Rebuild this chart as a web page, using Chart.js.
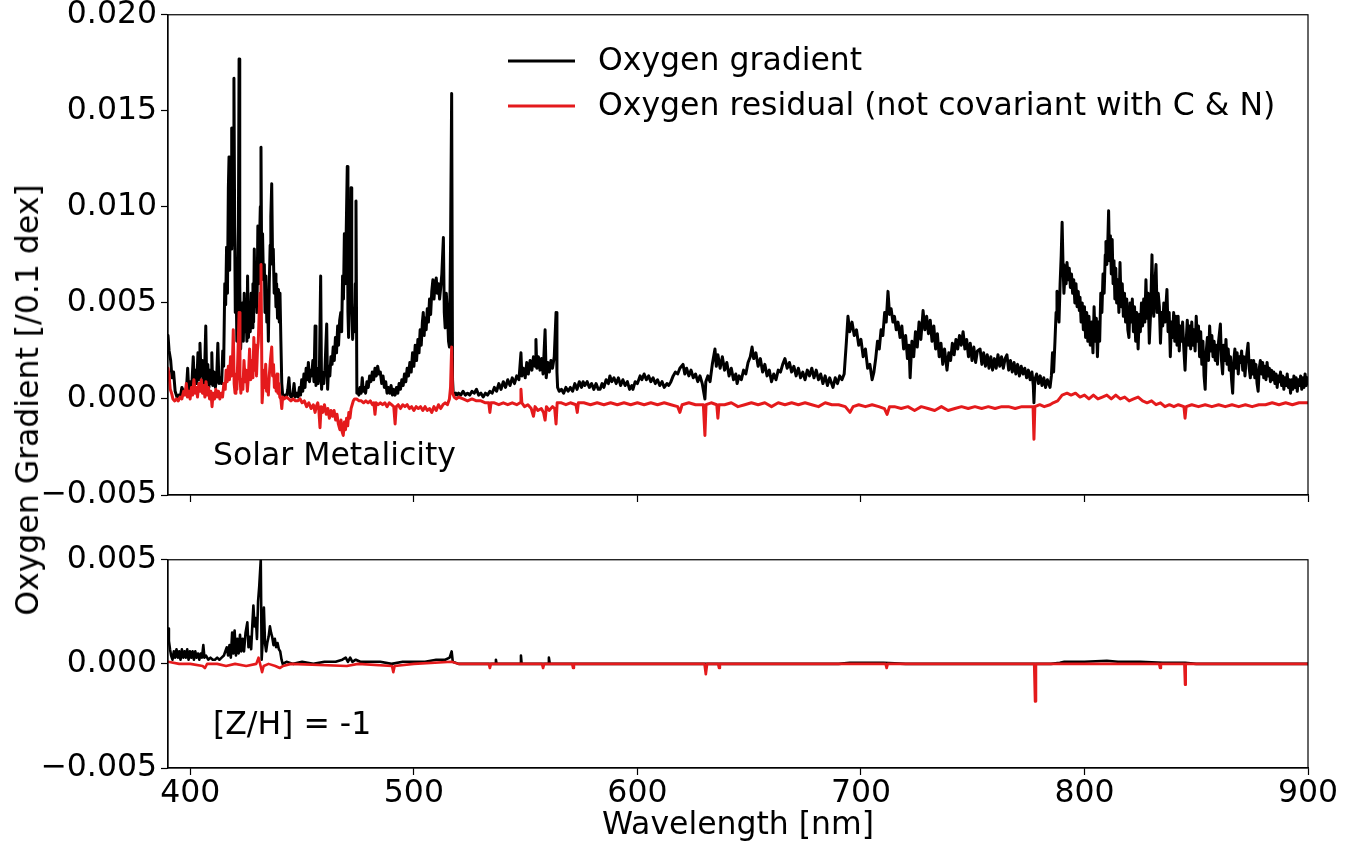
<!DOCTYPE html>
<html>
<head>
<meta charset="utf-8">
<script src="https://cdn.jsdelivr.net/npm/chart.js@4.4.1/dist/chart.umd.min.js"></script>
<style>
  body { margin: 0; background: #fff; width: 1354px; height: 843px; overflow: hidden; position: relative; font-family: "DejaVu Sans", sans-serif; }
  #topBox { position: absolute; left: 0; top: -5px; }
  #bottomBox { position: absolute; left: 0; top: 540px; }
  #yTitle { position: absolute; left: 27px; top: 400px; transform: translate(-50%, -50%) rotate(-90deg); white-space: nowrap; font-size: 31.5px; color: #000; }
</style>
</head>
<body>
<div id="topBox"><canvas id="solarChart" width="1354" height="520"></canvas></div>
<div id="bottomBox"><canvas id="poorChart" width="1354" height="303"></canvas></div>
<div id="yTitle">Oxygen Gradient [/0.1 dex]</div>
<script>
// [wavelength nm, gradient]
const solarGradient = [
  [390.0,0.0033],[390.5,0.0025],[391.2,0.0020],[391.8,0.0011],[392.5,0.0014],[393.2,0.0004],[394.0,0.0001],[394.8,0.0002],[395.5,0.0001],[396.2,0.0006],
  [396.9,0.0004],[397.6,0.0003],[398.3,0.0006],[398.8,0.0016],[399.3,0.0004],[400.0,0.0009],[400.6,0.0006],[401.3,0.0022],[401.8,0.0007],[402.4,0.0015],
  [402.9,0.0008],[403.4,0.0024],[403.9,0.0010],[404.3,0.0029],[404.8,0.0012],[405.4,0.0020],[405.9,0.0008],[406.4,0.0016],[406.9,0.0038],[407.3,0.0009],
  [407.8,0.0018],[408.3,0.0006],[408.8,0.0015],[409.3,0.0008],[409.6,0.0024],[410.0,0.0007],[410.6,0.0014],[411.2,0.0006],[411.8,0.0012],[412.3,0.0029],
  [412.8,0.0008],[413.4,0.0011],[414.0,0.0008],[414.5,0.0025],[414.9,0.0017],[415.4,0.0060],[415.8,0.0049],[416.2,0.0079],[416.6,0.0055],[417.0,0.0110],
  [417.3,0.0126],[417.6,0.0067],[417.9,0.0105],[418.2,0.0078],[418.5,0.0141],[418.8,0.0080],[419.2,0.0120],[419.5,0.0167],[419.8,0.0095],[420.1,0.0045],
  [420.4,0.0070],[420.8,0.0030],[421.1,0.0060],[421.5,0.0090],[421.8,0.0177],[422.1,0.0060],[422.5,0.0026],[422.9,0.0040],[423.3,0.0050],[423.7,0.0030],
  [424.1,0.0055],[424.5,0.0035],[424.9,0.0045],[425.3,0.0030],[425.6,0.0064],[426.0,0.0032],[426.4,0.0050],[426.8,0.0035],[427.2,0.0055],[427.6,0.0037],
  [428.0,0.0060],[428.3,0.0040],[428.6,0.0078],[429.0,0.0048],[429.4,0.0065],[429.8,0.0045],[430.2,0.0090],[430.6,0.0060],[431.0,0.0085],[431.3,0.0100],
  [431.6,0.0131],[431.9,0.0070],[432.3,0.0086],[432.7,0.0062],[433.1,0.0070],[433.4,0.0045],[433.8,0.0064],[434.2,0.0040],[434.6,0.0050],[434.9,0.0030],
  [435.3,0.0060],[435.7,0.0080],[436.0,0.0095],[436.4,0.0112],[436.8,0.0070],[437.1,0.0078],[437.5,0.0055],[437.9,0.0065],[438.3,0.0048],[438.6,0.0060],
  [439.0,0.0042],[439.4,0.0057],[439.8,0.0040],[440.1,0.0055],[440.5,0.0030],[440.9,0.0008],[441.3,0.0002],[441.8,0.0001],[442.4,0.0002],[443.0,0.0001],
  [443.6,0.0005],[444.1,0.0011],[444.6,0.0002],[445.2,0.0001],[445.8,0.0002],[446.4,0.0008],[446.9,0.0001],[447.5,0.0003],[448.2,0.0001],[448.8,0.0006],
  [449.3,0.0002],[449.8,0.0010],[450.3,0.0004],[450.8,0.0013],[451.3,0.0006],[451.8,0.0016],[452.3,0.0010],[452.8,0.0019],[453.3,0.0009],[453.8,0.0015],
  [454.3,0.0012],[454.8,0.0020],[455.3,0.0009],[455.8,0.0038],[456.2,0.0007],[456.7,0.0016],[457.2,0.0008],[457.7,0.0012],[458.3,0.0064],[458.7,0.0005],
  [459.2,0.0014],[459.7,0.0008],[460.2,0.0015],[461.0,0.0039],[461.4,0.0005],[461.9,0.0017],[462.4,0.0012],[462.9,0.0022],[463.4,0.0018],[463.9,0.0027],
  [464.4,0.0020],[464.9,0.0032],[465.4,0.0024],[465.9,0.0038],[466.3,0.0028],[466.8,0.0041],[467.3,0.0045],[467.7,0.0035],[468.1,0.0064],[468.5,0.0052],
  [468.9,0.0086],[469.3,0.0060],[469.7,0.0085],[470.2,0.0121],[470.5,0.0045],[470.8,0.0032],[471.2,0.0060],[471.6,0.0075],[471.9,0.0110],[472.2,0.0050],
  [472.6,0.0031],[473.0,0.0045],[473.4,0.0035],[473.8,0.0060],[474.1,0.0103],[474.5,0.0003],[474.9,0.0004],[475.4,0.0002],[475.9,0.0006],[476.4,0.0003],
  [476.9,0.0011],[477.4,0.0004],[477.9,0.0006],[478.4,0.0003],[479.0,0.0009],[479.6,0.0006],[480.2,0.0012],[480.8,0.0009],[481.4,0.0014],[482.0,0.0010],
  [482.6,0.0016],[483.2,0.0012],[483.8,0.0017],[484.4,0.0013],[485.0,0.0014],[485.6,0.0008],[486.2,0.0012],[486.8,0.0006],[487.4,0.0009],[488.0,0.0003],
  [488.6,0.0006],[489.2,0.0003],[489.8,0.0007],[490.4,0.0002],[491.0,0.0005],[491.6,0.0002],[492.2,0.0006],[492.8,0.0003],[493.4,0.0008],[494.0,0.0005],
  [494.6,0.0010],[495.2,0.0007],[495.8,0.0013],[496.4,0.0009],[497.0,0.0016],[497.6,0.0012],[498.2,0.0019],[498.8,0.0014],[499.4,0.0024],[500.0,0.0017],
  [500.6,0.0028],[501.2,0.0020],[501.8,0.0031],[502.3,0.0024],[502.8,0.0036],[503.3,0.0028],[503.8,0.0040],[504.2,0.0045],[504.6,0.0033],[505.0,0.0042],
  [505.5,0.0036],[506.0,0.0047],[506.5,0.0040],[507.0,0.0052],[507.5,0.0044],[508.0,0.0056],[508.5,0.0062],[509.0,0.0052],[509.5,0.0060],[510.0,0.0063],
  [510.5,0.0055],[511.0,0.0060],[511.5,0.0052],[512.0,0.0058],[512.5,0.0065],[513.2,0.0084],[513.6,0.0045],[514.0,0.0037],[514.5,0.0055],[515.0,0.0045],
  [515.5,0.0030],[515.9,0.0027],[516.4,0.0080],[516.9,0.0159],[517.3,0.0010],[517.6,0.0003],[518.2,0.0002],[518.8,0.0003],[519.4,0.0002],[520.0,0.0003],
  [521.0,0.0002],[522.0,0.0004],[523.0,0.0002],[524.0,0.0003],[525.0,0.0002],[526.0,0.0004],[527.0,0.0003],[528.0,0.0005],[529.0,0.0002],[530.0,0.0003],
  [531.0,0.0001],[532.0,0.0003],[533.0,0.0002],[534.0,0.0004],[535.0,0.0003],[536.0,0.0006],[537.0,0.0004],[538.0,0.0008],[539.0,0.0005],[540.0,0.0009],
  [541.0,0.0006],[542.0,0.0010],[543.0,0.0007],[544.0,0.0011],[545.0,0.0008],[546.0,0.0012],[547.0,0.0010],[547.9,0.0024],[548.3,0.0012],[549.0,0.0016],
  [549.8,0.0011],[550.5,0.0019],[551.2,0.0013],[552.0,0.0020],[552.8,0.0015],[553.5,0.0022],[554.2,0.0017],[554.6,0.0031],[555.0,0.0016],[555.7,0.0022],
  [556.4,0.0015],[557.1,0.0021],[557.8,0.0013],[558.7,0.0036],[559.2,0.0011],[559.9,0.0019],[560.6,0.0014],[561.3,0.0020],[562.0,0.0016],[562.8,0.0022],
  [563.6,0.0045],[564.0,0.0014],[564.3,0.0006],[565.0,0.0004],[566.0,0.0005],[567.0,0.0003],[568.0,0.0006],[569.0,0.0004],[570.0,0.0006],[571.0,0.0004],
  [572.0,0.0008],[573.0,0.0005],[574.0,0.0009],[575.0,0.0006],[575.7,0.0009],[576.5,0.0007],[577.5,0.0009],[578.5,0.0006],[579.5,0.0008],[580.5,0.0005],
  [581.5,0.0008],[582.5,0.0005],[583.3,0.0005],[584.2,0.0008],[585.0,0.0006],[586.0,0.0010],[587.0,0.0008],[587.7,0.0012],[588.5,0.0009],[589.5,0.0011],
  [590.5,0.0008],[591.5,0.0011],[592.5,0.0007],[593.5,0.0010],[594.5,0.0007],[595.5,0.0009],[596.5,0.0005],[597.5,0.0007],[598.0,0.0005],[599.0,0.0009],
  [600.0,0.0008],[601.2,0.0012],[602.0,0.0010],[603.0,0.0013],[604.0,0.0010],[605.0,0.0012],[606.0,0.0009],[607.0,0.0011],[608.0,0.0008],[609.0,0.0010],
  [610.0,0.0007],[611.0,0.0009],[612.0,0.0006],[613.2,0.0008],[614.0,0.0007],[615.0,0.0009],[616.0,0.0012],[617.0,0.0014],[618.0,0.0013],[619.0,0.0016],
  [620.4,0.0018],[621.2,0.0013],[622.0,0.0016],[623.0,0.0012],[624.0,0.0015],[625.0,0.0011],[626.0,0.0013],[627.0,0.0009],[628.0,0.0012],[629.0,0.0008],
  [630.2,0.0000],[630.6,0.0009],[631.5,0.0012],[632.5,0.0009],[633.5,0.0018],[634.7,0.0026],[635.3,0.0017],[636.0,0.0023],[637.0,0.0016],[638.0,0.0022],
  [639.0,0.0015],[640.0,0.0019],[641.0,0.0012],[642.0,0.0016],[643.0,0.0010],[644.0,0.0013],[644.6,0.0008],[645.5,0.0012],[646.5,0.0010],[647.5,0.0015],
  [648.5,0.0013],[649.5,0.0019],[650.5,0.0022],[651.3,0.0027],[652.0,0.0021],[653.0,0.0024],[654.0,0.0017],[655.0,0.0021],[656.0,0.0014],[657.0,0.0018],
  [658.0,0.0012],[659.0,0.0015],[660.0,0.0009],[661.0,0.0013],[662.0,0.0010],[663.0,0.0015],[664.0,0.0014],[665.0,0.0018],[666.0,0.0021],[667.0,0.0016],
  [668.0,0.0019],[669.0,0.0014],[670.0,0.0017],[671.0,0.0012],[672.0,0.0016],[673.0,0.0011],[674.0,0.0014],[675.0,0.0010],[676.0,0.0015],[677.0,0.0012],
  [678.0,0.0016],[679.0,0.0011],[680.0,0.0015],[681.0,0.0010],[682.0,0.0013],[683.0,0.0008],[684.0,0.0012],[685.0,0.0007],[686.0,0.0011],[687.5,0.0006],
  [688.5,0.0011],[689.5,0.0008],[690.5,0.0012],[691.5,0.0010],[692.5,0.0013],[693.5,0.0030],[694.2,0.0043],[695.0,0.0035],[696.0,0.0040],[697.0,0.0033],
  [698.0,0.0036],[699.0,0.0028],[700.0,0.0031],[701.0,0.0022],[702.0,0.0026],[703.0,0.0016],[704.0,0.0018],[705.0,0.0010],[705.8,0.0014],[706.6,0.0021],
  [707.4,0.0030],[708.2,0.0026],[709.0,0.0036],[709.8,0.0033],[710.6,0.0045],[711.3,0.0040],[712.1,0.0056],[712.8,0.0044],[713.5,0.0047],[714.3,0.0040],
  [715.0,0.0043],[715.8,0.0036],[716.6,0.0040],[717.5,0.0032],[718.3,0.0038],[719.1,0.0026],[720.0,0.0033],[720.8,0.0021],[721.5,0.0028],[722.0,0.0011],
  [722.8,0.0030],[723.6,0.0022],[724.4,0.0035],[725.2,0.0027],[726.0,0.0040],[726.8,0.0031],[727.8,0.0046],[728.6,0.0036],[729.4,0.0043],[730.2,0.0034],
  [731.0,0.0041],[731.8,0.0030],[732.6,0.0038],[733.4,0.0026],[734.2,0.0034],[735.0,0.0022],[735.8,0.0029],[736.6,0.0018],[737.4,0.0026],[738.5,0.0015],
  [739.3,0.0024],[740.1,0.0020],[740.9,0.0029],[741.7,0.0023],[742.5,0.0031],[743.3,0.0026],[744.1,0.0033],[744.9,0.0028],[745.7,0.0035],[746.5,0.0026],
  [747.3,0.0031],[748.1,0.0022],[748.9,0.0029],[749.7,0.0020],[750.5,0.0027],[751.3,0.0019],[752.1,0.0025],[753.3,0.0026],[754.1,0.0018],[754.9,0.0024],
  [755.7,0.0017],[756.5,0.0023],[757.3,0.0016],[758.1,0.0022],[758.9,0.0015],[759.7,0.0021],[760.5,0.0016],[761.3,0.0023],[762.1,0.0017],[762.9,0.0022],
  [763.7,0.0016],[764.5,0.0021],[765.3,0.0023],[766.1,0.0015],[766.9,0.0020],[767.7,0.0014],[768.5,0.0019],[769.3,0.0013],[770.1,0.0018],[770.9,0.0012],
  [771.7,0.0017],[772.5,0.0013],[773.3,0.0016],[774.1,0.0011],[774.9,0.0015],[775.7,0.0010],[776.5,0.0014],[777.1,0.0007],[777.4,-0.0002],[777.8,0.0010],
  [778.6,0.0013],[779.4,0.0008],[780.2,0.0012],[781.0,0.0007],[781.8,0.0011],[782.6,0.0006],[783.4,0.0010],[784.0,0.0008],[784.6,0.0006],[785.2,0.0012],
  [785.7,0.0024],[786.2,0.0014],[786.8,0.0030],[787.3,0.0045],[787.7,0.0056],[788.1,0.0050],[788.6,0.0040],[789.1,0.0060],[789.6,0.0075],[790.0,0.0092],
  [790.4,0.0070],[790.8,0.0055],[791.3,0.0065],[791.8,0.0060],[792.2,0.0071],[792.7,0.0062],[793.2,0.0068],[793.7,0.0058],[794.2,0.0065],[794.7,0.0055],
  [795.2,0.0062],[795.7,0.0050],[796.2,0.0060],[796.7,0.0048],[797.2,0.0056],[797.7,0.0046],[798.0,0.0053],[798.5,0.0040],[799.0,0.0050],[799.5,0.0036],
  [800.0,0.0048],[800.5,0.0032],[801.0,0.0045],[801.5,0.0030],[802.0,0.0043],[802.6,0.0028],[803.2,0.0040],[803.8,0.0024],[804.3,0.0048],[804.8,0.0030],
  [805.3,0.0042],[805.8,0.0022],[806.3,0.0040],[806.8,0.0030],[807.3,0.0055],[807.8,0.0045],[808.3,0.0065],[808.8,0.0055],[809.3,0.0075],[809.6,0.0082],
  [810.0,0.0070],[810.4,0.0080],[810.8,0.0098],[811.2,0.0072],[811.6,0.0085],[812.0,0.0065],[812.4,0.0083],[812.8,0.0060],[813.2,0.0072],[813.6,0.0052],
  [814.0,0.0068],[814.4,0.0050],[814.9,0.0062],[815.4,0.0045],[815.9,0.0071],[816.4,0.0048],[816.9,0.0060],[817.4,0.0043],[817.9,0.0055],[818.4,0.0040],
  [818.9,0.0052],[819.4,0.0036],[819.9,0.0032],[820.4,0.0050],[820.9,0.0040],[821.4,0.0052],[821.9,0.0035],[822.4,0.0048],[822.9,0.0030],[823.4,0.0045],
  [824.0,0.0026],[824.5,0.0044],[825.0,0.0035],[825.5,0.0050],[826.0,0.0038],[826.5,0.0052],[827.0,0.0040],[827.5,0.0062],[828.0,0.0042],[828.5,0.0055],
  [829.0,0.0029],[829.6,0.0045],[830.2,0.0075],[830.6,0.0050],[831.0,0.0043],[831.5,0.0060],[832.0,0.0070],[832.5,0.0045],[833.0,0.0055],[833.5,0.0048],
  [834.0,0.0029],[834.5,0.0045],[835.0,0.0038],[835.5,0.0050],[836.0,0.0040],[836.9,0.0057],[837.4,0.0035],[837.9,0.0045],[838.4,0.0022],[838.9,0.0040],
  [839.4,0.0032],[839.9,0.0045],[840.4,0.0030],[840.9,0.0043],[841.4,0.0028],[841.9,0.0043],[842.4,0.0025],[842.9,0.0038],[843.4,0.0030],[843.9,0.0040],
  [844.5,0.0025],[845.0,0.0015],[845.5,0.0030],[846.0,0.0041],[846.5,0.0028],[847.0,0.0038],[847.5,0.0026],[848.0,0.0040],[848.5,0.0028],[849.0,0.0036],
  [849.5,0.0025],[850.0,0.0043],[850.5,0.0030],[851.0,0.0038],[851.5,0.0022],[852.0,0.0035],[852.5,0.0018],[853.0,0.0030],[853.5,0.0012],[854.0,0.0005],
  [854.5,0.0025],[855.0,0.0032],[855.5,0.0020],[856.0,0.0038],[856.5,0.0025],[857.0,0.0033],[857.5,0.0022],[858.0,0.0030],[858.5,0.0020],[859.0,0.0028],
  [859.5,0.0018],[860.0,0.0030],[860.8,0.0039],[861.3,0.0020],[861.8,0.0013],[862.3,0.0028],[862.8,0.0020],[863.3,0.0031],[863.8,0.0018],[864.3,0.0026],
  [864.8,0.0015],[865.3,0.0022],[865.8,0.0010],[866.3,0.0003],[866.8,0.0020],[867.3,0.0026],[867.8,0.0016],[868.3,0.0024],[868.8,0.0013],[869.3,0.0022],
  [869.8,0.0019],[870.3,0.0025],[870.8,0.0015],[871.3,0.0022],[871.8,0.0012],[872.3,0.0020],[873.2,0.0029],[873.7,0.0016],[874.2,0.0011],[874.7,0.0020],
  [875.2,0.0013],[875.7,0.0020],[876.2,0.0011],[876.7,0.0018],[877.2,0.0008],[877.7,0.0004],[878.2,0.0016],[878.7,0.0020],[879.2,0.0013],[879.7,0.0019],
  [880.2,0.0011],[880.7,0.0017],[881.2,0.0010],[881.7,0.0019],[882.2,0.0012],[882.7,0.0016],[883.2,0.0009],[883.7,0.0015],[884.2,0.0010],[884.7,0.0014],
  [885.2,0.0008],[885.7,0.0013],[886.2,0.0006],[886.7,0.0012],[887.2,0.0009],[887.7,0.0014],[888.2,0.0007],[888.7,0.0012],[889.2,0.0005],[889.7,0.0011],
  [890.2,0.0007],[890.7,0.0013],[891.2,0.0006],[891.7,0.0010],[892.2,0.0003],[892.7,0.0010],[893.2,0.0005],[893.7,0.0012],[894.2,0.0006],[894.7,0.0011],
  [895.2,0.0004],[895.7,0.0010],[896.2,0.0007],[896.7,0.0012],[897.2,0.0005],[897.7,0.0011],[898.2,0.0006],[898.7,0.0013],[899.2,0.0007],[899.6,0.0011],
  [900.0,0.0008]
];

const solarResidual = [
  [390.0,0.0016],[390.5,0.0012],[391.0,0.0005],[391.6,0.0003],[392.2,0.0000],[393.0,-0.0001],[393.8,0.0000],[394.6,-0.0001],[395.4,0.0001],[396.2,0.0000],
  [397.0,0.0004],[397.6,0.0002],[398.2,0.0008],[398.7,0.0001],[399.3,0.0004],[399.9,0.0000],[400.5,0.0006],[401.0,0.0002],[401.6,0.0010],[402.1,0.0003],
  [402.7,0.0006],[403.2,0.0001],[403.8,0.0008],[404.3,0.0004],[404.9,0.0010],[405.4,0.0003],[406.0,0.0007],[406.5,0.0001],[407.0,0.0009],[407.5,0.0002],
  [408.1,0.0006],[408.6,0.0000],[409.2,0.0004],[409.7,-0.0004],[410.2,0.0003],[410.8,0.0000],[411.4,0.0005],[412.0,0.0001],[412.6,0.0004],[413.2,0.0000],
  [413.8,0.0003],[414.4,0.0001],[415.0,0.0008],[415.6,0.0005],[416.0,0.0015],[416.5,0.0009],[417.0,0.0017],[417.5,0.0010],[418.0,0.0022],[418.4,0.0012],
  [418.8,0.0017],[419.2,0.0036],[419.6,0.0008],[420.0,0.0003],[420.4,0.0013],[420.8,0.0005],[421.2,0.0020],[421.8,0.0045],[422.2,0.0012],[422.6,0.0003],
  [423.0,0.0010],[423.5,0.0005],[424.0,0.0020],[424.5,0.0009],[425.0,0.0015],[425.5,0.0004],[426.0,0.0012],[426.5,0.0026],[427.0,0.0010],[427.5,0.0020],
  [428.0,0.0011],[428.4,0.0032],[428.8,0.0015],[429.2,0.0028],[429.6,0.0012],[430.0,0.0025],[430.4,0.0030],[430.8,0.0045],[431.2,0.0055],[431.6,0.0070],
  [432.1,-0.0002],[432.5,0.0006],[432.9,0.0015],[433.3,0.0008],[433.7,0.0018],[434.1,0.0004],[434.5,0.0010],[434.9,0.0002],[435.3,0.0012],[435.8,0.0020],
  [436.4,0.0027],[436.8,0.0012],[437.2,0.0018],[437.6,0.0006],[438.0,0.0012],[438.4,0.0004],[438.8,0.0013],[439.2,0.0003],[439.6,0.0008],[440.0,0.0001],
  [440.5,0.0000],[440.9,-0.0005],[441.3,0.0001],[442.0,0.0000],[443.0,0.0001],[444.0,0.0000],[445.0,-0.0001],[446.0,0.0000],[447.0,-0.0001],[448.0,-0.0001],
  [449.1,0.0000],[450.0,-0.0002],[451.0,-0.0001],[452.0,-0.0004],[453.0,-0.0002],[454.0,-0.0005],[455.0,-0.0003],[455.8,-0.0007],[456.3,-0.0004],[457.0,-0.0002],
  [457.5,-0.0006],[458.0,-0.0015],[458.5,-0.0004],[459.2,-0.0007],[460.0,-0.0003],[460.8,-0.0008],[461.5,-0.0005],[462.2,-0.0010],[462.9,-0.0006],[463.6,-0.0009],
  [464.3,-0.0006],[465.0,-0.0011],[465.6,-0.0008],[466.2,-0.0013],[466.9,-0.0016],[467.4,-0.0011],[467.9,-0.0017],[468.4,-0.0019],[468.9,-0.0012],[469.4,-0.0016],
  [469.9,-0.0010],[470.4,-0.0014],[470.9,-0.0007],[471.4,-0.0010],[471.9,-0.0005],[472.4,-0.0003],[472.9,-0.0001],[473.5,0.0000],[474.4,0.0000],[475.5,-0.0001],
  [476.5,-0.0001],[477.5,-0.0002],[478.5,-0.0001],[479.5,-0.0002],[480.5,-0.0001],[481.5,-0.0003],[482.1,-0.0002],[482.6,-0.0008],[483.1,-0.0002],[484.0,-0.0003],
  [485.0,-0.0002],[486.0,-0.0003],[487.0,-0.0002],[488.0,-0.0004],[489.0,-0.0002],[490.0,-0.0003],[491.0,-0.0004],[491.6,-0.0013],[492.1,-0.0004],[493.0,-0.0003],
  [494.0,-0.0005],[495.0,-0.0003],[496.0,-0.0004],[497.0,-0.0003],[498.0,-0.0005],[499.0,-0.0004],[500.0,-0.0006],[501.0,-0.0004],[502.0,-0.0005],[503.0,-0.0004],
  [504.0,-0.0006],[505.0,-0.0004],[506.0,-0.0006],[507.0,-0.0005],[508.0,-0.0007],[509.0,-0.0004],[510.0,-0.0006],[511.0,-0.0003],[512.0,-0.0005],[513.0,-0.0003],
  [514.0,-0.0002],[515.0,-0.0003],[515.9,0.0000],[516.4,0.0006],[516.9,0.0027],[517.3,0.0003],[518.0,0.0001],[519.0,0.0000],[520.0,0.0001],[522.0,0.0000],
  [524.0,-0.0001],[526.0,0.0000],[528.0,-0.0001],[530.0,-0.0001],[532.0,-0.0002],[533.5,-0.0002],[534.0,-0.0007],[534.5,-0.0002],[536.0,-0.0002],[538.0,-0.0003],
  [540.0,-0.0002],[542.0,-0.0003],[544.0,-0.0002],[546.0,-0.0003],[547.5,-0.0002],[547.9,0.0005],[548.3,-0.0002],[549.5,-0.0004],[551.0,-0.0003],[552.5,-0.0005],
  [553.5,-0.0009],[554.2,-0.0004],[555.5,-0.0006],[557.0,-0.0005],[558.0,-0.0007],[558.7,-0.0011],[559.3,-0.0004],[560.5,-0.0006],[562.0,-0.0004],[563.0,-0.0005],
  [563.6,-0.0013],[564.1,-0.0002],[566.0,-0.0002],[568.0,-0.0003],[570.0,-0.0002],[572.5,-0.0003],[573.1,-0.0007],[573.6,-0.0002],[576.0,-0.0002],[579.0,-0.0003],
  [582.0,-0.0002],[585.0,-0.0003],[588.0,-0.0002],[591.0,-0.0003],[594.0,-0.0002],[597.0,-0.0003],[600.0,-0.0002],[603.0,-0.0003],[606.0,-0.0002],[609.0,-0.0003],
  [612.0,-0.0002],[615.0,-0.0003],[618.0,-0.0004],[619.0,-0.0007],[620.0,-0.0003],[623.0,-0.0002],[626.0,-0.0003],[629.5,-0.0003],[630.2,-0.0019],[630.7,-0.0003],
  [633.0,-0.0002],[635.5,-0.0003],[636.0,-0.0010],[636.5,-0.0003],[639.0,-0.0003],[642.0,-0.0002],[645.0,-0.0004],[648.0,-0.0003],[651.0,-0.0002],[654.0,-0.0003],
  [657.0,-0.0002],[660.0,-0.0004],[663.0,-0.0002],[666.0,-0.0003],[669.0,-0.0002],[672.0,-0.0003],[675.0,-0.0002],[678.0,-0.0003],[681.0,-0.0004],[684.0,-0.0002],
  [687.0,-0.0003],[690.0,-0.0003],[693.0,-0.0004],[695.1,-0.0007],[696.5,-0.0004],[699.0,-0.0003],[702.0,-0.0004],[705.0,-0.0003],[708.0,-0.0004],[710.5,-0.0005],
  [711.7,-0.0008],[712.8,-0.0004],[715.0,-0.0004],[718.0,-0.0005],[721.0,-0.0004],[724.0,-0.0006],[727.0,-0.0004],[730.0,-0.0005],[733.0,-0.0006],[736.0,-0.0004],
  [739.0,-0.0006],[742.0,-0.0005],[745.0,-0.0004],[748.0,-0.0005],[751.0,-0.0004],[754.0,-0.0005],[757.0,-0.0004],[760.0,-0.0005],[763.0,-0.0004],[766.0,-0.0004],
  [769.0,-0.0005],[772.0,-0.0004],[775.0,-0.0004],[777.0,-0.0004],[777.4,-0.0021],[777.8,-0.0004],[780.0,-0.0003],[782.0,-0.0004],[784.6,-0.0003],[786.0,-0.0002],
  [788.0,-0.0001],[790.0,0.0002],[792.2,0.0003],[794.0,0.0002],[796.0,0.0003],[798.0,0.0001],[800.0,0.0002],[802.0,0.0000],[804.0,0.0002],[806.0,0.0000],
  [808.0,0.0001],[810.0,0.0002],[812.0,0.0000],[814.0,0.0002],[816.0,0.0000],[818.0,0.0001],[820.0,-0.0001],[822.0,0.0000],[824.0,0.0001],[826.0,-0.0001],
  [828.0,-0.0002],[830.0,-0.0001],[832.0,-0.0003],[834.0,-0.0002],[836.0,-0.0004],[838.0,-0.0003],[840.0,-0.0004],[842.0,-0.0003],[844.5,-0.0004],[845.0,-0.0010],
  [845.5,-0.0004],[848.0,-0.0003],[851.0,-0.0004],[854.0,-0.0003],[857.0,-0.0004],[860.0,-0.0003],[863.0,-0.0004],[866.0,-0.0003],[869.0,-0.0004],[872.0,-0.0003],
  [875.0,-0.0004],[878.0,-0.0003],[881.0,-0.0003],[884.0,-0.0002],[887.0,-0.0003],[890.0,-0.0002],[893.0,-0.0003],[896.0,-0.0002],[900.0,-0.0002]
];

const poorGradient = [
  [390.0,0.0017],[390.4,0.0011],[390.9,0.0007],[391.4,0.0004],[392.0,0.0002],[392.6,0.0006],[393.2,0.0003],[393.8,0.0007],[394.4,0.0003],[395.0,0.0006],
  [395.6,0.0002],[396.2,0.0007],[396.8,0.0003],[397.4,0.0006],[398.0,0.0003],[398.6,0.0007],[399.2,0.0002],[399.8,0.0006],[400.4,0.0003],[401.0,0.0006],
  [401.6,0.0002],[402.2,0.0006],[402.8,0.0003],[403.4,0.0005],[404.0,0.0002],[404.6,0.0005],[405.2,0.0003],[405.8,0.0009],[406.3,0.0003],[407.0,0.0004],
  [408.0,0.0002],[409.0,0.0003],[410.0,0.0002],[411.0,0.0002],[412.0,0.0003],[413.0,0.0002],[414.0,0.0003],[415.0,0.0004],[416.3,0.0008],[416.9,0.0004],
  [417.5,0.0009],[418.1,0.0003],[418.7,0.0015],[419.2,0.0005],[419.8,0.0016],[420.4,0.0004],[421.0,0.0012],[421.6,0.0005],[422.2,0.0014],[422.8,0.0006],
  [423.4,0.0012],[424.0,0.0006],[424.7,0.0015],[425.5,0.0020],[426.0,0.0008],[426.6,0.0013],[427.2,0.0007],[427.7,0.0018],[428.2,0.0028],[428.7,0.0018],
  [429.3,0.0022],[429.8,0.0012],[430.3,0.0030],[430.8,0.0037],[431.5,0.0050],[431.9,0.0002],[432.4,0.0012],[432.9,0.0027],[433.4,0.0010],[433.9,0.0006],
  [434.4,0.0010],[435.0,0.0013],[435.6,0.0018],[436.1,0.0015],[436.6,0.0013],[437.2,0.0009],[437.8,0.0012],[438.4,0.0008],[439.0,0.0010],[439.6,0.0007],
  [440.2,0.0006],[440.8,0.0002],[441.3,0.0000],[443.0,0.0001],[446.0,0.0000],[450.0,0.0001],[455.0,0.0000],[460.0,0.0001],[465.0,0.0001],[468.0,0.0002],
  [469.5,0.0003],[470.5,0.0001],[471.5,0.0003],[472.5,0.0001],[474.0,0.0002],[476.0,0.0001],[480.0,0.0001],[485.0,0.0001],[490.0,0.0000],[495.0,0.0001],
  [500.0,0.0001],[505.0,0.0001],[510.0,0.0002],[514.0,0.0002],[516.0,0.0003],[516.9,0.0006],[517.4,0.0001],[520.0,0.0000],[530.0,0.0000],[536.5,0.0000],
  [536.7,0.0002],[537.0,0.0000],[547.7,0.0000],[547.9,0.0004],[548.2,0.0000],[560.0,0.0000],[560.4,0.0003],[560.8,0.0000],[600.0,0.0000],[690.0,0.0000],
  [695.0,0.00005],[710.0,0.00005],[720.0,0.0000],[785.0,0.0000],[789.0,0.00005],[791.0,0.0001],[800.0,0.0001],[810.0,0.00015],[815.0,0.0001],[825.0,0.0001],
  [835.0,0.00005],[845.0,0.00005],[850.0,0.0000],[900.0,0.0000]
];

const poorResidual = [
  [390.0,0.0001],[395.0,0.0000],[400.0,0.0000],[405.5,-0.0001],[406.5,-0.0002],[407.5,0.0000],[412.0,0.0000],[416.0,-0.0001],[420.0,0.0000],[425.0,-0.0001],
  [429.5,0.0000],[430.5,0.0003],[431.2,0.0000],[432.1,-0.0004],[432.8,-0.0001],[435.0,0.0000],[438.0,-0.0001],[440.0,-0.0002],[441.5,-0.0001],[445.0,0.0000],
  [470.0,-0.0001],[475.0,0.0000],[490.2,-0.0001],[490.8,-0.0004],[491.4,-0.0001],[500.0,0.0000],[516.9,0.0001],[520.0,0.0000],[533.5,0.0000],[534.0,-0.0002],
  [534.5,0.0000],[557.3,0.0000],[557.8,-0.0002],[558.3,0.0000],[570.8,0.0000],[571.2,-0.0002],[571.6,0.0000],[630.0,0.0000],[630.6,-0.0005],[631.2,0.0000],
  [636.1,0.0000],[636.5,-0.0002],[636.9,0.0000],[711.0,0.0000],[711.5,-0.0002],[712.0,0.0000],[777.5,0.0000],[777.9,-0.0018],[778.3,0.0000],[833.4,0.0000],
  [833.8,-0.0002],[834.2,0.0000],[844.7,0.0000],[845.0,-0.0010],[845.3,0.0000],[900.0,0.0000]
];

const seriesLabels = ['Oxygen gradient', 'Oxygen residual (not covariant with C & N)'];
const seriesColors = ['#000000', '#e41a1c'];
const xTicks = [400, 500, 600, 700, 800, 900];
const solarYTicks = [-0.005, 0.000, 0.005, 0.010, 0.015, 0.020];
const poorYTicks = [-0.005, 0.000, 0.005];
const panelLabels = ['Solar Metalicity', '[Z/H] = -1'];

const FONT = { family: 'DejaVu Sans', size: 31.5, lineHeight: 1.0 };

function toPoints(pairs) {
	return pairs.map(p => ({ x: p[0], y: p[1] }));
}

function fmtTick(v) {
	if (Math.abs(v) < 1e-9) return '0.000';
	return v.toFixed(3).replace('-', '\u2212');
}

// box round the plot, like matplotlib spines
const framePlugin = {
	id: 'frame',
	afterDatasetsDraw(chart) {
		const a = chart.chartArea;
		const ctx = chart.ctx;
		ctx.save();
		ctx.strokeStyle = '#000';
		ctx.lineWidth = 1.2;
		ctx.strokeRect(a.left, a.top, a.right - a.left, a.bottom - a.top);
		ctx.restore();
	}
};

// panel caption placed in data coordinates
const captionPlugin = {
	id: 'caption',
	afterDraw(chart, args, opts) {
		if (!opts.text) return;
		const ctx = chart.ctx;
		ctx.save();
		ctx.font = FONT.size + 'px "DejaVu Sans"';
		ctx.fillStyle = '#000';
		ctx.textAlign = 'left';
		ctx.textBaseline = 'middle';
		ctx.fillText(opts.text, chart.scales.x.getPixelForValue(opts.x), chart.scales.y.getPixelForValue(opts.y));
		ctx.restore();
	}
};

// legend drawn inside the plot area
const innerLegendPlugin = {
	id: 'innerLegend',
	afterDraw(chart, args, opts) {
		if (!opts.show) return;
		const ctx = chart.ctx;
		ctx.save();
		ctx.font = FONT.size + 'px "DejaVu Sans"';
		ctx.textAlign = 'left';
		ctx.textBaseline = 'middle';
		seriesLabels.forEach((label, i) => {
			const y = opts.top + i * opts.gap;
			ctx.strokeStyle = seriesColors[i];
			ctx.lineWidth = 2.8;
			ctx.beginPath();
			ctx.moveTo(opts.left, y);
			ctx.lineTo(opts.left + 67, y);
			ctx.stroke();
			ctx.fillStyle = '#000';
			ctx.fillText(label, opts.left + 90, y + 1);
		});
		ctx.restore();
	}
};

function makeChart(canvasId, gradient, residual, yTicks, showXLabels, caption, lineWidth) {
	const yMin = yTicks[0];
	const yMax = yTicks[yTicks.length - 1];
	const config = {
		type: 'line',
		data: {
			datasets: [{
				label: seriesLabels[0],
				data: toPoints(gradient),
				borderColor: seriesColors[0],
				borderWidth: lineWidth,
				order: 2
			}, {
				label: seriesLabels[1],
				data: toPoints(residual),
				borderColor: seriesColors[1],
				borderWidth: lineWidth,
				order: 1
			}]
		},
		options: {
			responsive: false,
			animation: false,
			events: [],
			layout: { padding: { left: 0, right: 46, top: 0, bottom: 0 } },
			elements: {
				point: { radius: 0 },
				line: { tension: 0, borderJoinStyle: 'round', borderCapStyle: 'round', fill: false }
			},
			plugins: {
				legend: { display: false },
				tooltip: { enabled: false },
				caption: caption,
				innerLegend: { show: canvasId === 'solarChart', left: 508, top: 66, gap: 45 }
			},
			scales: {
				x: {
					type: 'linear',
					min: 390,
					max: 900,
					afterBuildTicks: s => { s.ticks = xTicks.map(v => ({ value: v })); },
					afterFit: s => { s.height = showXLabels ? 75 : 20; },
					grid: { drawOnChartArea: false, drawTicks: true, tickLength: 7, color: '#000', tickWidth: 1.2 },
					border: { display: true, color: '#000', width: 1.2 },
					ticks: { display: showXLabels, color: '#000', font: FONT, padding: 3, maxRotation: 0 },
					title: {
						display: showXLabels,
						text: 'Wavelength [nm]',
						color: '#000',
						font: { family: 'DejaVu Sans', size: 31.5, lineHeight: 1.0 },
						padding: { top: 0, bottom: 1 }
					}
				},
				y: {
					min: yMin,
					max: yMax,
					afterBuildTicks: s => { s.ticks = yTicks.map(v => ({ value: v })); },
					afterFit: s => { s.width = 168; },
					grid: { drawOnChartArea: false, drawTicks: true, tickLength: 7, color: '#000', tickWidth: 1.2 },
					border: { display: true, color: '#000', width: 1.2 },
					ticks: { color: '#000', font: FONT, padding: 4, callback: v => fmtTick(v) }
				}
			}
		},
		plugins: [framePlugin, captionPlugin, innerLegendPlugin]
	};
	return new Chart(document.getElementById(canvasId), config);
}

makeChart('solarChart', solarGradient, solarResidual, solarYTicks, false,
	{ text: panelLabels[0], x: 410.1, y: -0.00302 }, 3);
makeChart('poorChart', poorGradient, poorResidual, poorYTicks, true,
	{ text: panelLabels[1], x: 410.1, y: -0.00298 }, 2.6);
</script>
</body>
</html>
